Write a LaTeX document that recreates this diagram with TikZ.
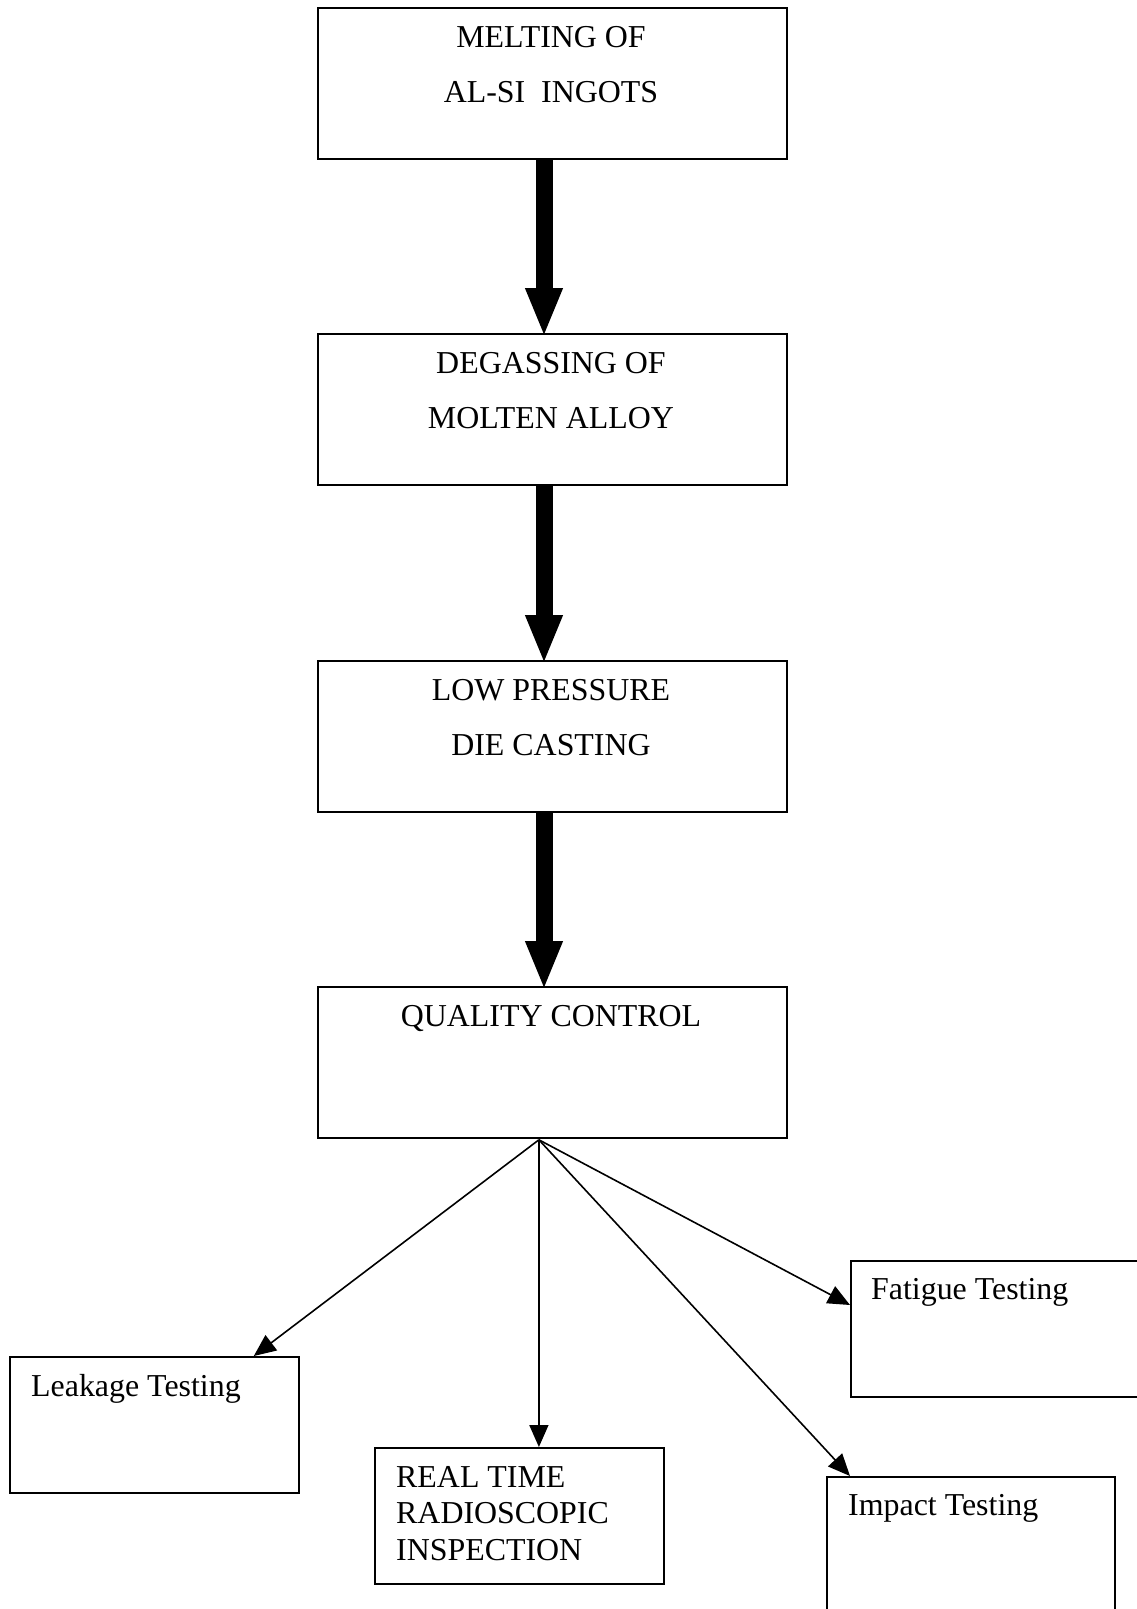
\documentclass[tikz,border=0pt]{standalone}
\usepackage{fontspec}
\setmainfont{Liberation Serif}
\usetikzlibrary{arrows.meta,calc}
\begin{document}
\begin{tikzpicture}[x=1pt,y=-1pt,
  box/.style={draw,line width=1.8pt,inner sep=0pt,anchor=north west},
  mainbox/.style={box,minimum width=469pt,minimum height=151pt},
  subbox/.style={box,minimum width=289pt,minimum height=136pt},
  lbl/.style={inner sep=0pt,font=\fontsize{31.9}{36}\selectfont},
  clbl/.style={lbl,anchor=base},
  llbl/.style={lbl,anchor=base west},
  bigarrow/.style={line width=17pt,line cap=butt,shorten >=-4pt,-{Triangle[length=49pt,width=34pt]}},
  thinarrow/.style={line width=1.6pt,-{Triangle[length=22pt,width=19pt]}}
]
\clip (0,0) rectangle (1137,1609);
\fill[white] (0,0) rectangle (1137,1609);

% main process boxes
\node[mainbox] (m1) at (317,7) {};
\node[mainbox] (m2) at (317,333) {};
\node[mainbox] (m3) at (317,660) {};
\node[mainbox] (m4) at (317,986) {};

\node[clbl] (t1a) at (551,47) {MELTING OF};
\node[clbl] (t1b) at (551,102) {AL-SI\ \ INGOTS};
\node[clbl] (t2a) at (551,373) {DEGASSING OF};
\node[clbl] (t2b) at (551,428) {MOLTEN ALLOY};
\node[clbl] (t3a) at (551,700) {LOW PRESSURE};
\node[clbl] (t3b) at (551,755) {DIE CASTING};
\node[clbl] (t4a) at (551,1026) {QUALITY CONTROL};

% testing boxes
\node[subbox] (lk) at (9,1356) {};
\node[subbox] (rt) at (374,1447) {};
\node[subbox,minimum width=300pt] (fg) at (850,1260) {};
\node[subbox,minimum width=288pt,minimum height=150pt] (im) at (826,1476) {};

\node[llbl] (tlk) at (31,1396) {Leakage Testing};
\node[llbl] (trt1) at (396,1487) {REAL TIME};
\node[llbl] (trt2) at (396,1523) {RADIOSCOPIC};
\node[llbl] (trt3) at (396,1560) {INSPECTION};
\node[llbl] (tfg) at (871,1299) {Fatigue Testing};
\node[llbl] (tim) at (848,1515) {Impact Testing};

% thick arrows
\coordinate (ax) at (544,0);
\draw[bigarrow] (m1.south -| ax) -- (m2.north -| ax);
\draw[bigarrow] (m2.south -| ax) -- (m3.north -| ax);
\draw[bigarrow] (m3.south -| ax) -- (m4.north -| ax);

% fan of thin arrows
\coordinate (fan) at ($(m4.south)+(-13.5,1)$);
\draw[thinarrow] (fan) -- ($(lk.north east)+(-46,0)$);
\draw[thinarrow] (fan) -- (fan |- rt.north);
\draw[thinarrow] (fan) -- ($(fg.north west)+(0,45)$);
\draw[thinarrow] (fan) -- ($(im.north west)+(24,0)$);
\end{tikzpicture}
\end{document}
